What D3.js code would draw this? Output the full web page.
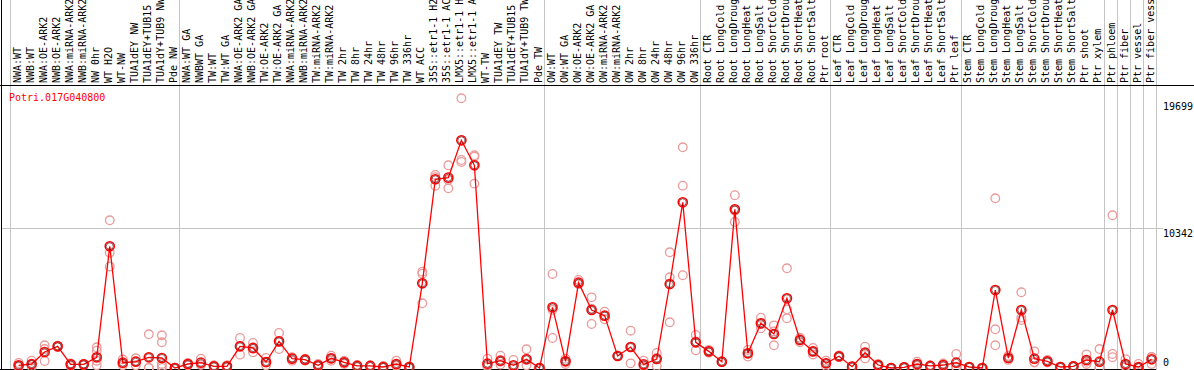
<!DOCTYPE html>
<html>
<head>
<meta charset="utf-8">
<script src="https://cdnjs.cloudflare.com/ajax/libs/d3/7.8.5/d3.min.js"></script>
<style>
  body { margin: 0; background: #fff; }
  svg { display: block; }
  text { font-family: "DejaVu Sans Mono", monospace; font-size: 10px; }
</style>
</head>
<body>
<div id="chart"></div>
<script>
const gene = 'Potri.017G040800';

const samples = [
  'NWA:WT', 'NWB:WT', 'NWA:OE-ARK2', 'NWB:OE-ARK2', 'NWA:miRNA-ARK2', 'NWB:miRNA-ARK2',
  'NW 0hr', 'WT H2O', 'WT-NW', 'TUA1dEY NW', 'TUA1dEY+TUB15 NW', 'TUA1dY+TUB9 NW', 'Pde NW',
  'NWA:WT GA', 'NWBWT GA', 'TW:WT', 'TW:WT GA', 'NWA:OE-ARK2 GA', 'NWB:OE-ARK2 GA',
  'TW:OE-ARK2', 'TW:OE-ARK2 GA', 'NWA:miRNA-ARK2', 'NWB:miRNA-ARK2', 'TW:miRNA-ARK2', 'TW:miRNA-ARK2',
  'TW 2hr', 'TW 8hr', 'TW 24hr', 'TW 48hr', 'TW 96hr', 'TW 336hr', 'WT ACC',
  '35S::etr1-1 H2O', '35S::etr1-1 ACC', 'LMX5::etr1-1 H2O', 'LMX5::etr1-1 ACC',
  'WT-TW', 'TUA1dEY TW', 'TUA1dEY+TUB15 TW', 'TUA1dY+TUB9 TW', 'Pde TW',
  'OW:WT', 'OW:WT GA', 'OW:OE-ARK2', 'OW:OE-ARK2 GA', 'OW:miRNA-ARK2', 'OW:miRNA-ARK2',
  'OW 2hr', 'OW 8hr', 'OW 24hr', 'OW 48hr', 'OW 96hr', 'OW 336hr',
  'Root CTR', 'Root LongCold', 'Root LongDrought', 'Root LongHeat', 'Root LongSalt',
  'Root ShortCold', 'Root ShortDrought', 'Root ShortHeat', 'Root ShortSalt', 'Ptr root',
  'Leaf CTR', 'Leaf LongCold', 'Leaf LongDrought', 'Leaf LongHeat', 'Leaf LongSalt',
  'Leaf ShortCold', 'Leaf ShortDrought', 'Leaf ShortHeat', 'Leaf ShortSalt', 'Ptr leaf',
  'Stem CTR', 'Stem LongCold', 'Stem LongDrought', 'Stem LongHeat', 'Stem LongSalt',
  'Stem ShortCold', 'Stem ShortDrought', 'Stem ShortHeat', 'Stem ShortSalt', 'Ptr shoot', 'Ptr xylem',
  'Ptr phloem', 'Ptr fiber', 'Ptr vessel', 'Ptr fiber vessel'
];

const means = [
  200, 295, 1180, 1600, 270, 270, 790, 8990, 390, 465, 790, 740, 0,
  295, 390, 125, 125, 1600, 1480, 445, 1970, 690, 615, 200, 715,
  420, 150, 150, 75, 295, 75, 6255, 13940, 14060, 16820, 14970,
  320, 540, 200, 640, 0,
  4485, 495, 6300, 4285, 3865, 885, 1550, 270, 665, 6205, 12240, 1900,
  1230, 465, 11720, 1085, 3300, 2510, 5150, 2070, 1230, 345,
  865, 100, 1130, 220, 0, 50, 295, 150, 220, 390,
  75, 0, 5760, 740, 4285, 690, 495, 75, 125, 590, 465,
  4285, 295, 75, 640
];

const replicates = [
  [370, 150, 80], [540, 100, 240], [1675, 1400, 515], [1650, 1550, 1600], [330, 150, 270], [300, 220, 270],
  [1530, 1280, 540, 200], [10910, 8520, 7500], [640, 200, 330], [715, 200, 480], [2490, 0, 0], [2415, 1900, 300, 150, 0], [0, 30, 0],
  [370, 200, 295], [690, 250, 230], [200, 80, 100], [60, 120, 200], [2215, 985, 1600], [1850, 1160, 1430],
  [740, 200, 400], [2585, 1400, 1925], [790, 540, 740], [690, 540, 615], [300, 120, 180], [910, 540, 690],
  [540, 300, 420], [220, 90, 150], [200, 100, 150], [150, 30, 60], [540, 200, 150], [30, 120, 75], [7115, 6965, 4780],
  [14260, 14090, 13470], [14970, 13890, 13270], [19920, 15365, 15220], [15710, 15610, 13615],
  [690, 100, 170], [910, 250, 460], [590, 0, 20], [1380, 690, 200], [0, 20, 0],
  [6945, 2215, 4300], [690, 300, 495], [6500, 6200, 6200], [5220, 3250, 4385], [4160, 3600, 3835], [885, 880, 890],
  [2755, 345, 1550], [540, 150, 120], [1110, 150, 735], [8545, 6700, 3375], [16300, 13470, 6850], [2440, 1305, 1955],
  [1330, 1130, 1230], [465, 460, 470], [12760, 10785, 11615], [1330, 850, 1075], [3715, 2930, 3255], [3150, 1675, 2705],
  [7365, 4335, 3670], [2240, 1900, 2070], [1480, 1000, 1210], [540, 150, 345],
  [930, 800, 865], [100, 90, 110], [1575, 700, 1115], [300, 150, 210], [20, 0, 0], [80, 30, 40],
  [470, 150, 265], [180, 120, 150], [330, 100, 230], [1035, 100, 35],
  [75, 70, 80], [20, 0, 0], [12535, 2860, 1675], [900, 600, 720], [5590, 3545, 3720], [1230, 400, 440],
  [600, 400, 485], [100, 60, 65], [150, 100, 125], [1010, 300, 460], [1400, 0, 0],
  [11280, 1035, 800], [650, 90, 145], [300, 0, 0], [800, 300, 820]
];

const groupStarts = [0, 13, 41, 53, 63, 73, 84, 85, 86, 87, 88];
const yTicks = [0, 10342, 19699];

const width = 1194;
const height = 370;

const svg = d3.select('#chart')
  .append('svg')
  .attr('width', width)
  .attr('height', height);

const x = d3.scaleBand()
  .domain(d3.range(samples.length))
  .range([10, 1156]);

const y = d3.scaleLinear()
  .domain([0, 19699])
  .range([368, 101.3]);

const cx = i => x(i) + 8.6;
const edge = i => (i < samples.length ? x(i) : x.range()[1]);

// 分组竖线
svg.append('g')
  .selectAll('line')
  .data(groupStarts)
  .enter()
  .append('line')
  .attr('x1', d => Math.round(edge(d)) + 0.5)
  .attr('x2', d => Math.round(edge(d)) + 0.5)
  .attr('y1', 0)
  .attr('y2', height)
  .attr('stroke', '#c4c4c4')
  .attr('stroke-width', 1);

// 横向网格线
svg.append('g')
  .selectAll('line')
  .data(yTicks.filter(d => d > 0 && d < 19699))
  .enter()
  .append('line')
  .attr('x1', 2)
  .attr('x2', 1163)
  .attr('y1', d => Math.round(y(d)) + 0.5)
  .attr('y2', d => Math.round(y(d)) + 0.5)
  .attr('stroke', '#c4c4c4')
  .attr('stroke-width', 1);

// 边框
svg.append('line')
  .attr('x1', 0).attr('x2', width)
  .attr('y1', 85.5).attr('y2', 85.5)
  .attr('stroke', '#000');
svg.append('line')
  .attr('x1', 1.5).attr('x2', 1.5)
  .attr('y1', 0).attr('y2', height)
  .attr('stroke', '#000');
svg.append('line')
  .attr('x1', 0).attr('x2', 1156)
  .attr('y1', 369.5).attr('y2', 369.5)
  .attr('stroke', '#000');

// 样本标签（顶部被画布边缘截断，与原图一致）
svg.append('g')
  .selectAll('text')
  .data(samples)
  .enter()
  .append('text')
  .attr('transform', (d, i) => `translate(${cx(i) + 2},83) rotate(-90)`)
  .attr('fill', '#000')
  .text(d => d);

// 基因名
svg.append('text')
  .attr('x', 9)
  .attr('y', 101)
  .attr('fill', '#ff0000')
  .text(gene);

// y 轴标签
svg.append('g')
  .selectAll('text')
  .data(yTicks)
  .enter()
  .append('text')
  .attr('x', 1163)
  .attr('y', d => Math.min(Math.round(y(d)) + 9, 366))
  .attr('fill', '#000')
  .text(d => d);

// 重复样本点
const repPoints = [];
replicates.forEach((vals, i) => vals.forEach(v => repPoints.push({ i, v })));

svg.append('g')
  .selectAll('circle')
  .data(repPoints)
  .enter()
  .append('circle')
  .attr('cx', d => cx(d.i))
  .attr('cy', d => y(d.v))
  .attr('r', 4.3)
  .attr('fill', 'none')
  .attr('stroke', '#eb9a9a')
  .attr('stroke-width', 1.3);

// 均值折线
const line = d3.line()
  .x((d, i) => cx(i))
  .y(d => y(d));

svg.append('path')
  .datum(means)
  .attr('d', line)
  .attr('fill', 'none')
  .attr('stroke', '#ff0000')
  .attr('stroke-width', 1.3);

// 均值点
const meanG = svg.append('g')
  .selectAll('g')
  .data(means)
  .enter()
  .append('g')
  .attr('transform', (d, i) => `translate(${cx(i)},${y(d)})`);

meanG.append('circle')
  .attr('r', 4.6)
  .attr('fill', 'none')
  .attr('stroke', '#ff0000')
  .attr('stroke-width', 1.5);

meanG.append('circle')
  .attr('r', 3.5)
  .attr('fill', 'none')
  .attr('stroke', '#400000')
  .attr('stroke-width', 0.6);
</script>
</body>
</html>
